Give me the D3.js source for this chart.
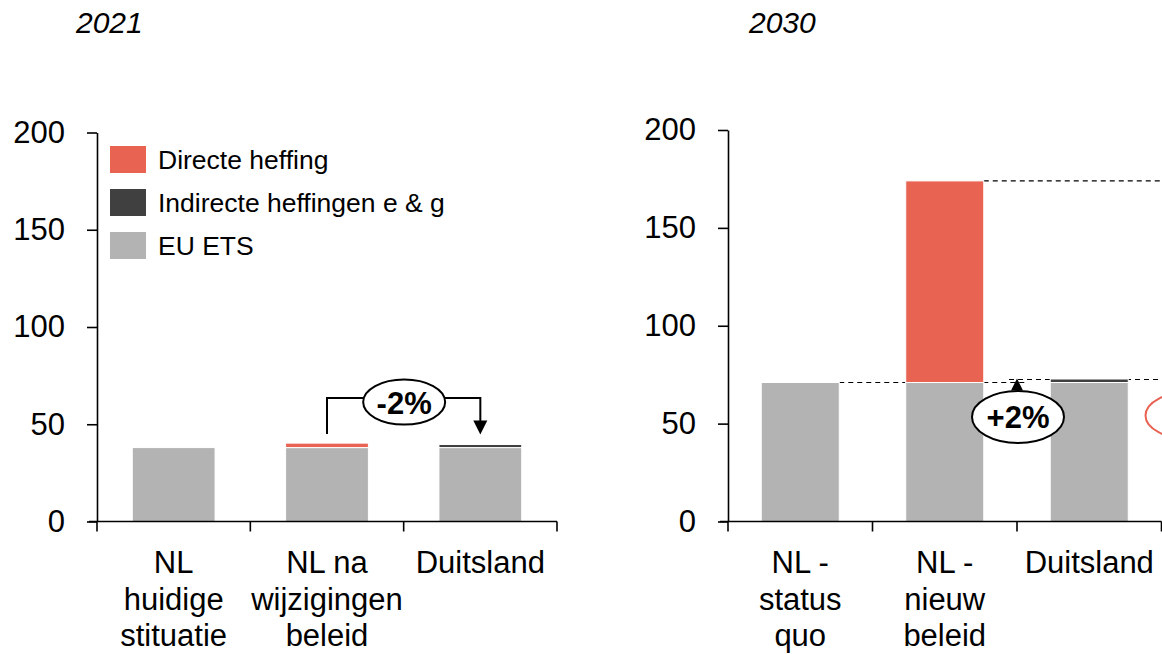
<!DOCTYPE html>
<html><head><meta charset="utf-8">
<script src="https://cdn.jsdelivr.net/npm/d3@7"></script>
<style>
html,body{margin:0;padding:0;background:#fff;overflow:hidden}
text{font-family:"Liberation Sans",Arial,Helvetica,sans-serif;fill:#000}
</style></head><body>
<svg id="chart" width="1162" height="654"></svg>
<script>
// ---- data ----
const cats2021 = [["NL","huidige","stituatie"],["NL na","wijzigingen","beleid"],["Duitsland"]];
const ets2021 = [38, 38, 38];
const indirect2021 = [0, 0, 1.6];
const direct2021 = [0, 2.3, 0];

const cats2030 = [["NL -","status","quo"],["NL -","nieuw","beleid"],["Duitsland"]];
const ets2030 = [71, 71, 71];
const indirect2030 = [0, 0, 1.8];
const direct2030 = [0, 103, 0];

const yTicks = [0, 50, 100, 150, 200];
const seriesNames = ["Directe heffing", "Indirecte heffingen e & g", "EU ETS"];
const seriesColors = ["#E96353", "#404040", "#B3B3B3"];
const panelTitles = ["2021", "2030"];
const changeLabels = ["-2%", "+2%"];

const svg = d3.select("#chart");
const FS = 31;

function panel(opt){
  const g = svg.append("g");
  const x = d3.scaleBand().domain(d3.range(opt.cats.length)).range([opt.x0, opt.x1]).padding(0);
  const y = d3.scaleLinear().domain([0, 200]).range([opt.yb, opt.yt]);
  const bw = x.bandwidth() * 0.54;
  const bx = i => x(i) + (x.bandwidth() - bw) / 2;
  const stack = opt.cats.map((c, i) => {
    const e = opt.ets[i], ind = opt.ind[i], dir = opt.dir[i];
    return [
      {v0: 0, v1: e, c: seriesColors[2]},
      {v0: e, v1: e + ind, c: seriesColors[1]},
      {v0: e + ind, v1: e + ind + dir, c: seriesColors[0]}
    ].filter(s => s.v1 > s.v0);
  });
  const totals = opt.cats.map((c, i) => opt.ets[i] + opt.ind[i] + opt.dir[i]);

  g.append("text").attr("x", opt.titleX).attr("y", 33).attr("font-size", 30)
    .attr("font-style", "italic").text(opt.title);

  if (opt.dashes) opt.dashes(g, x, y, bw, bx, totals);

  stack.forEach((segs, i) => {
    g.selectAll(null).data(segs).enter().append("rect")
      .attr("x", bx(i)).attr("width", bw)
      .attr("y", d => y(d.v1)).attr("height", d => y(d.v0) - y(d.v1))
      .attr("fill", d => d.c).attr("stroke", "#fff").attr("stroke-width", 1);
  });

  const ya = g.append("g").attr("transform", `translate(${opt.x0},0)`)
    .call(d3.axisLeft(y).tickValues(yTicks).tickSize(10).tickSizeOuter(0).tickPadding(22));
  ya.select(".domain").attr("stroke", "#000").attr("stroke-width", 1.6);
  ya.selectAll(".tick line").attr("stroke", "#000").attr("stroke-width", 1.6);
  ya.selectAll(".tick text").attr("font-size", FS).attr("font-family", "Liberation Sans, Arial, sans-serif").attr("fill", "#000");

  const xa = g.append("g");
  xa.append("line").attr("x1", opt.x0 - 8).attr("x2", opt.x1).attr("y1", y(0)).attr("y2", y(0))
    .attr("stroke", "#000").attr("stroke-width", 1.6);
  const bounds = d3.range(opt.cats.length + 1).map(i => opt.x0 + i * x.step());
  xa.selectAll(null).data(bounds).enter().append("line")
    .attr("x1", d => d).attr("x2", d => d).attr("y1", y(0)).attr("y2", y(0) + 10)
    .attr("stroke", "#000").attr("stroke-width", 1.6);
  opt.cats.forEach((lines, i) => {
    const t = xa.append("text").attr("text-anchor", "middle").attr("font-size", FS);
    lines.forEach((l, k) => t.append("tspan").attr("x", x(i) + x.bandwidth() / 2).attr("y", 573 + k * 36.6).text(l));
  });

  if (opt.annot) opt.annot(g, x, y, bw, bx, totals);
  return {x, y};
}

function bubble(g, cx, cy, rx, ry, label){
  g.append("ellipse").attr("cx", cx).attr("cy", cy).attr("rx", rx).attr("ry", ry)
    .attr("fill", "#fff").attr("stroke", "#000").attr("stroke-width", 2);
  g.append("text").attr("x", cx).attr("y", cy + 1).attr("text-anchor", "middle")
    .attr("dominant-baseline", "central").attr("font-size", FS).attr("font-weight", "bold").text(label);
}

// ---- 2021 panel ----
panel({
  cats: cats2021, ets: ets2021, ind: indirect2021, dir: direct2021,
  x0: 97, x1: 557, yb: 521.5, yt: 132.5, title: panelTitles[0], titleX: 76,
  annot: (g, x, y, bw, bx, totals) => {
    const xa = x(1) + x.bandwidth() / 2, xb = x(2) + x.bandwidth() / 2;
    const top = y(totals[1]) - 45;
    const tipY = y(totals[2]) - 10;
    g.append("path").attr("d", `M${xa},${y(totals[1]) - 9}V${top}H${xb}V${tipY - 12}`)
      .attr("fill", "none").attr("stroke", "#000").attr("stroke-width", 2);
    g.append("path").attr("d", `M${xb - 7},${tipY - 14}L${xb + 7},${tipY - 14}L${xb},${tipY}Z`).attr("fill", "#000");
    bubble(g, (xa + xb) / 2 + 0.5, top + 4, 41, 22.5, changeLabels[0]);
  }
});

// ---- 2030 panel ----
panel({
  cats: cats2030, ets: ets2030, ind: indirect2030, dir: direct2030,
  x0: 728, x1: 1161.5, yb: 521.5, yt: 130, title: panelTitles[1], titleX: 749,
  dashes: (g, x, y, bw, bx, totals) => {
    const dl = (x1, x2, yy) => g.append("line").attr("x1", x1).attr("x2", x2).attr("y1", yy).attr("y2", yy)
      .attr("stroke", "#000").attr("stroke-width", 1.1).attr("stroke-dasharray", "5,4");
    dl(bx(0) + bw, x(2) + 9, y(totals[0]));
    dl(x(2) - 8, 1200, y(totals[2]) + 0.5);
    dl(bx(1) + bw, 1200, y(totals[1]));
  },
  annot: (g, x, y, bw, bx, totals) => {
    const xm = x(2);
    const tip = y(totals[2]) - 0.5;
    g.append("path").attr("d", `M${xm - 6},${tip + 12}L${xm + 6},${tip + 12}L${xm},${tip}Z`).attr("fill", "#000");
    bubble(g, xm + 1, tip + 38.5, 46, 26, changeLabels[1]);
    g.append("ellipse").attr("cx", x(2) + x.step() + 30).attr("cy", tip + 37).attr("rx", 46).attr("ry", 24)
      .attr("fill", "none").attr("stroke", seriesColors[0]).attr("stroke-width", 2);
  }
});

// ---- legend ----
const lg = svg.append("g");
seriesNames.forEach((n, i) => {
  lg.append("rect").attr("x", 110).attr("y", 146 + i * 43).attr("width", 36).attr("height", 27).attr("fill", seriesColors[i]);
  lg.append("text").attr("x", 158).attr("y", 146 + i * 43 + 14).attr("dominant-baseline", "central")
    .attr("font-size", 26.5).text(n);
});
</script>
</body></html>
